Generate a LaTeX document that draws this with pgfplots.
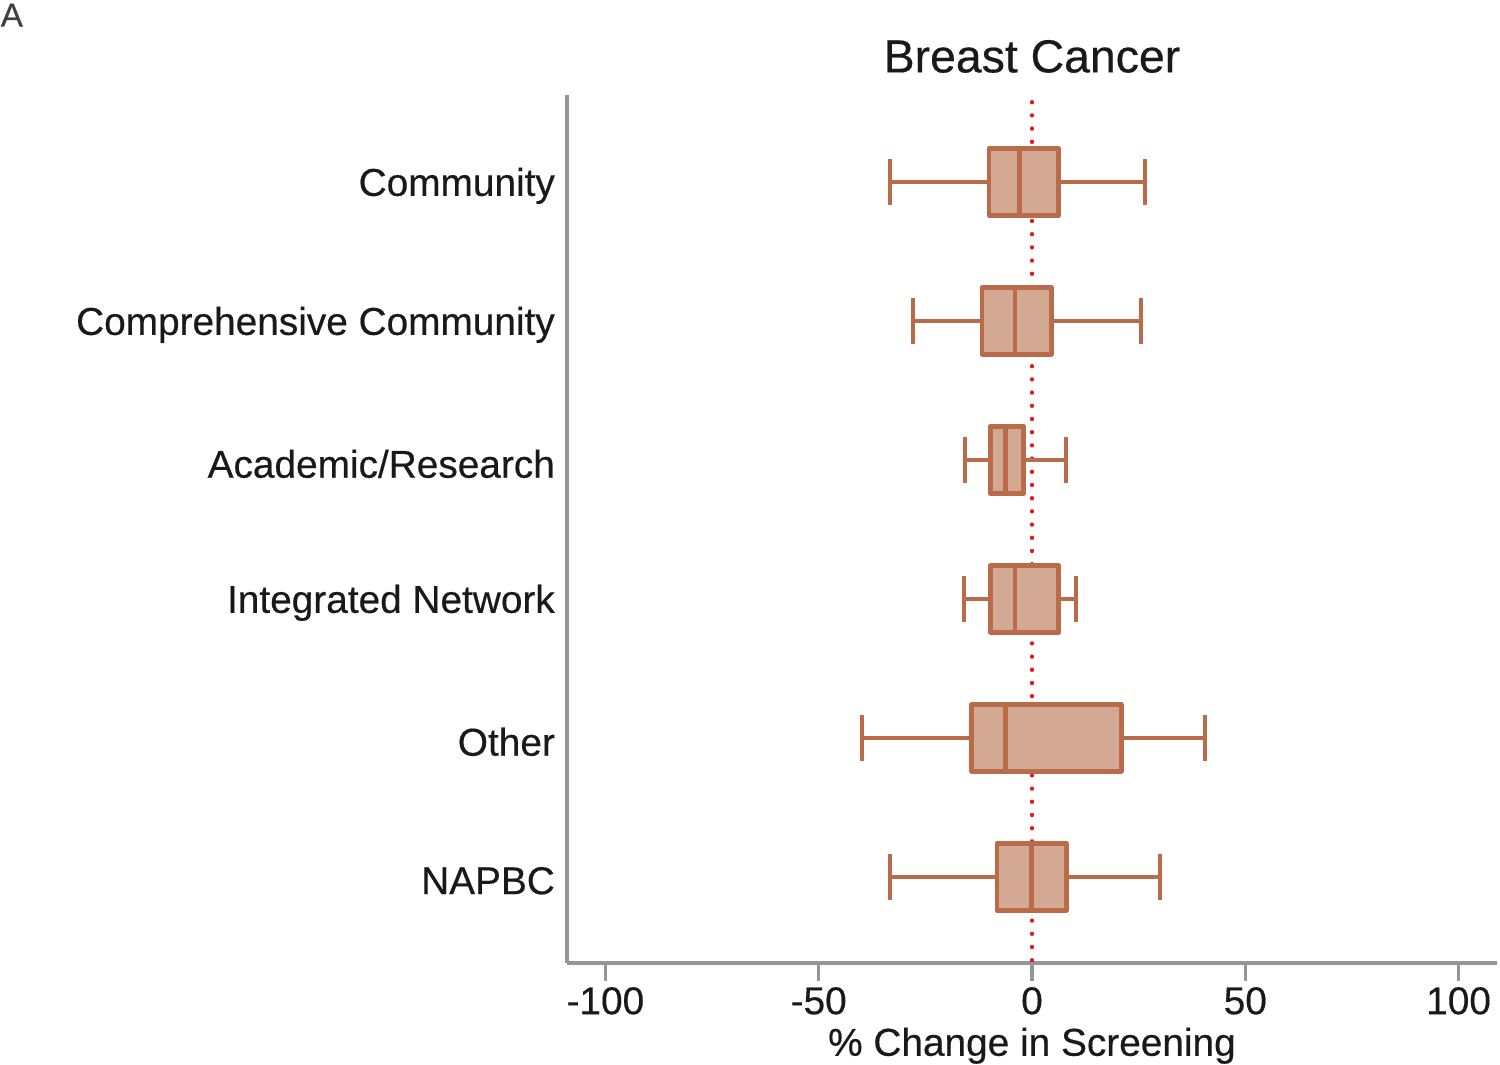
\documentclass[border=0pt]{standalone}
\usepackage{fontspec}
\setmainfont{Liberation Sans}[FakeBold=0.4]
\usepackage{pgfplots}
\pgfplotsset{compat=1.18}
\usepgfplotslibrary{statistics}
\definecolor{boxfill}{RGB}{211,169,148}
\definecolor{boxedge}{RGB}{186,108,74}
\definecolor{axgray}{RGB}{150,150,150}
\definecolor{zerored}{RGB}{214,30,40}

\begin{document}
\begin{tikzpicture}
\begin{axis}[
  name=ax,
  scale only axis,
  width=232.5pt, height=217pt,
  xmin=-109, xmax=109,
  ymin=0.38, ymax=6.625,
  axis lines*=left,
  axis line style={axgray, line width=1pt},
  xtick={-100,-50,0,50,100},
  ytick={1,2,3,4,5,6},
  yticklabels={NAPBC, Other, Integrated Network, Academic/Research,
               Comprehensive Community, Community},
  tick align=outside,
  x tick style={axgray, line width=0.8pt},
  major tick length=4.5pt,
  y tick style={draw=none},
  ytick style={draw=none},
  /pgf/number format/assume math mode=true,
  tick label style={font=\fontsize{9.7}{11}\selectfont, text=black!90},
  y tick label style={xshift=5pt, yshift=-1pt},
  x tick label style={yshift=2pt},
  xlabel={\% Change in Screening},
  xlabel style={font=\fontsize{9.7}{11}\selectfont, text=black!90, yshift=3.6pt},
  title={Breast Cancer},
  title style={font=\fontsize{11.6}{13}\selectfont, text=black!90, yshift=-4pt},
  clip=false,
  boxplot/box extend=0.48,
  boxplot/whisker extend=0.33,
  boxplot/every box/.style={draw=boxedge, fill=boxfill, line width=1.2pt, line join=round},
  boxplot/every whisker/.style={draw=boxedge, line width=1pt},
  boxplot/every median/.style={draw=boxedge, line width=1.2pt},
]
% zero reference line
\addplot[zerored, line width=1.1pt, line cap=round, dash pattern=on 0pt off 3.3pt]
  coordinates {(0,0.4) (0,6.62)};

% Community
\addplot[draw=boxedge, fill=boxfill, boxplot prepared={draw position=6,
  lower whisker=-33.3, lower quartile=-10.1, median=-3.0,
  upper quartile=6.3, upper whisker=26.5}] coordinates {};
% Comprehensive Community
\addplot[draw=boxedge, fill=boxfill, boxplot prepared={draw position=5,
  lower whisker=-27.9, lower quartile=-11.7, median=-4.0,
  upper quartile=4.5, upper whisker=25.5}] coordinates {};
% Academic/Research
\addplot[draw=boxedge, fill=boxfill, boxplot prepared={draw position=4,
  lower whisker=-15.7, lower quartile=-9.8, median=-6.3,
  upper quartile=-1.9, upper whisker=8.0}] coordinates {};
% Integrated Network
\addplot[draw=boxedge, fill=boxfill, boxplot prepared={draw position=3,
  lower whisker=-15.9, lower quartile=-9.8, median=-4.0,
  upper quartile=6.3, upper whisker=10.3}] coordinates {};
% Other
\addplot[draw=boxedge, fill=boxfill, boxplot prepared={draw position=2,
  lower whisker=-39.8, lower quartile=-14.1, median=-6.3,
  upper quartile=20.9, upper whisker=40.5}] coordinates {};
% NAPBC
\addplot[draw=boxedge, fill=boxfill, boxplot prepared={draw position=1,
  lower whisker=-33.3, lower quartile=-8.2, median=-0.2,
  upper quartile=8.0, upper whisker=30.0}] coordinates {};

\node[anchor=north west, inner sep=0pt, font=\fontsize{8.3}{9}\selectfont, text=black!75]
  at (rel axis cs:-0.6097,1.1060) {A};
\end{axis}
% fix the page to the reference's proportions
\pgfresetboundingbox
\path[use as bounding box] ([shift={(-141.75pt,-25.5pt)}]ax.south west)
  rectangle ([shift={(0.75pt,23.75pt)}]ax.north east);
\end{tikzpicture}
\end{document}
